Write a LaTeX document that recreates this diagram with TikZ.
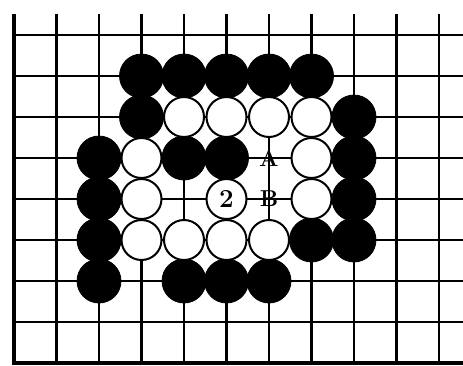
\documentclass[tikz,border=0pt]{standalone}
\usepackage{fontspec}
\setmainfont{Latin Modern Roman}
\begin{document}
\begin{tikzpicture}[x=1pt,y=-1pt,
  gridline/.style={line width=2.3pt,black},
  edgeline/.style={line width=3.8pt,black},
  bstone/.style={circle,fill=black,draw=black,line width=0.8pt,minimum size=44pt,inner sep=0pt},
  wstone/.style={circle,fill=white,draw=black,line width=2pt,minimum size=40pt,inner sep=0pt},
  lbl/.style={inner sep=0pt,font=\fontsize{23}{23}\selectfont\bfseries}
]
\useasboundingbox (0,0) rectangle (463,365);
\fill[white] (0,0) rectangle (463,365);
% grid
\foreach \k in {1,...,10} {
  \draw[gridline] ({14+42.5*\k},14) -- ({14+42.5*\k},363);
}
\foreach \j in {0,...,7} {
  \draw[gridline] (14,{35+41*\j}) -- (463,{35+41*\j});
}
\draw[edgeline] (14,14) -- (14,363);
\draw[edgeline] (12.1,363) -- (463,363);
% stones: (col,row)
\foreach \c/\r [count=\i] in {3/1,4/1,5/1,6/1,7/1,
  3/2,8/2,
  2/3,4/3,5/3,8/3,
  2/4,8/4,
  2/5,7/5,8/5,
  2/6,4/6,5/6,6/6} {
  \node[bstone] (b\i) at ({14+42.5*\c},{35+41*\r}) {};
}
\foreach \c/\r [count=\i] in {4/2,5/2,6/2,7/2,
  3/3,7/3,
  3/4,7/4,
  3/5,4/5,5/5,6/5} {
  \node[wstone] (w\i) at ({14+42.5*\c},{35+41*\r}) {};
}
\node[wstone,font=\fontsize{26}{26}\selectfont\bfseries] (two) at ({14+42.5*5},{35+41*4}) {2};
\node[lbl] (A) at ({14+42.5*6},{35+41*3}) {A};
\node[lbl] (B) at ({14+42.5*6},{35+41*4}) {B};
\end{tikzpicture}
\end{document}
